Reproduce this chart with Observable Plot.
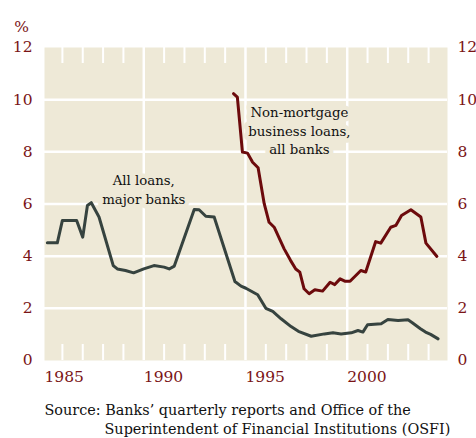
<!DOCTYPE html>
<html>
<head>
<meta charset="utf-8">
<script src="https://cdn.jsdelivr.net/npm/d3@7"></script>
<script src="https://cdn.jsdelivr.net/npm/@observablehq/plot@0.6"></script>
<style>
  html, body { margin: 0; padding: 0; background: #ffffff; }
</style>
</head>
<body>
<div id="chart"></div>
<script>
// All loans, major banks (%)
const allYears = [1985.26, 1985.75, 1986.0, 1986.7, 1987.0, 1987.23, 1987.42, 1987.8, 1988.5, 1988.7,
  1989.1, 1989.5, 1990.0, 1990.5, 1991.0, 1991.25, 1991.5, 1992.48, 1992.72, 1993.05,
  1993.46, 1994.48, 1994.78, 1995.02, 1995.6, 1996.0, 1996.34, 1996.75, 1997.24, 1997.6,
  1998.23, 1998.88, 1999.3, 1999.7, 2000.2, 2000.53, 2000.77, 2001.0, 2001.67, 2002.0,
  2002.5, 2002.99, 2003.2, 2003.6, 2003.85, 2004.1, 2004.47];
const allValues = [4.51, 4.51, 5.37, 5.37, 4.73, 5.94, 6.05, 5.5, 3.64, 3.51,
  3.45, 3.36, 3.51, 3.64, 3.58, 3.51, 3.62, 5.79, 5.78, 5.53,
  5.5, 3.03, 2.85, 2.77, 2.52, 2.0, 1.88, 1.6, 1.3, 1.12,
  0.93, 1.02, 1.06, 1.02, 1.06, 1.15, 1.09, 1.37, 1.41, 1.57,
  1.53, 1.56, 1.45, 1.22, 1.09, 1.0, 0.83];

// Non-mortgage business loans, all banks (%)
const nmYears = [1994.41, 1994.6, 1994.85, 1995.1, 1995.35, 1995.62, 1995.92, 1996.16, 1996.41, 1996.9,
  1997.22, 1997.47, 1997.67, 1997.88, 1998.13, 1998.41, 1998.79, 1999.16, 1999.39, 1999.65,
  1999.88, 2000.14, 2000.67, 2000.91, 2001.4, 2001.65, 2002.14, 2002.39, 2002.67, 2003.13,
  2003.62, 2003.87, 2004.41];
const nmValues = [10.23, 10.1, 7.99, 7.95, 7.6, 7.39, 6.01, 5.3, 5.11, 4.28,
  3.83, 3.51, 3.39, 2.75, 2.56, 2.71, 2.66, 3.0, 2.91, 3.13,
  3.04, 3.04, 3.45, 3.39, 4.56, 4.5, 5.11, 5.18, 5.56, 5.78,
  5.5, 4.5, 3.99];

const yTicks = [0, 2, 4, 6, 8, 10, 12];
const yGrid = [2, 4, 6, 8, 10];
const xGrid = [1990, 1995, 2000];
const xLabels = [1985, 1990, 1995, 2000];
const yearTicks = [1986, 1987, 1988, 1989, 1991, 1992, 1993, 1994, 1996, 1997, 1998, 1999, 2001, 2002, 2003, 2004];
const xDomain = [1985.12, 2004.93];

const labelAll = ["All loans,\nmajor banks"];
const labelAllPos = [1990, 6.59];
const labelNm = ["Non-mortgage\nbusiness loans,\nall banks"];
const labelNmPos = [1997.65, 8.85];
const sourceLines = ["Source: Banks\u2019 quarterly reports and Office of the",
  "Superintendent of Financial Institutions (OSFI)"];

const allData = allYears.map((x, i) => ({x, y: allValues[i]}));
const nmData = nmYears.map((x, i) => ({x, y: nmValues[i]}));

const BG = "#eee9d7";
const RED = "#7a1416";
const GREY = "#36433f";
const LINE_RED = "#6c0a0c";
const FONT = "DejaVu Serif";

const chart = Plot.plot({
  width: 476,
  height: 438,
  marginTop: 47,
  marginBottom: 78,
  marginLeft: 44,
  marginRight: 29,
  style: {background: "#ffffff", fontFamily: FONT},
  x: {domain: xDomain, axis: null},
  y: {domain: [0, 12], axis: null},
  marks: [
    Plot.frame({fill: BG, stroke: null}),
    Plot.ruleY(yGrid, {stroke: "#ffffff", strokeWidth: 2.5}),
    Plot.ruleX(xGrid, {stroke: "#ffffff", strokeWidth: 2.5}),
    Plot.ruleX(yearTicks, {stroke: "#ffffff", strokeWidth: 2, insetTop: 297}),
    Plot.ruleX(yearTicks, {stroke: "#ffffff", strokeWidth: 2, insetBottom: 297}),
    Plot.text(labelAll, {x: () => labelAllPos[0], y: () => labelAllPos[1], text: d => d,
      fontSize: 13.3, lineHeight: 1.43, fill: "#111", stroke: BG, strokeWidth: 9, textAnchor: "middle"}),
    Plot.text(labelNm, {x: () => labelNmPos[0], y: () => labelNmPos[1], text: d => d,
      fontSize: 13.3, lineHeight: 1.4, fill: "#111", stroke: BG, strokeWidth: 9, textAnchor: "middle"}),
    Plot.line(allData, {x: "x", y: "y", stroke: GREY, strokeWidth: 3, strokeLinejoin: "round"}),
    Plot.line(nmData, {x: "x", y: "y", stroke: LINE_RED, strokeWidth: 3, strokeLinejoin: "round"}),
    Plot.axisY(yTicks, {anchor: "left", label: null, tickSize: 0, tickPadding: 12, color: RED, fontSize: 15.5}),
    Plot.axisY(yTicks, {anchor: "right", label: null, tickSize: 0, tickPadding: 10, color: RED, fontSize: 15.5}),
    Plot.text(xLabels, {x: d => Math.max(d, xDomain[0]), frameAnchor: "bottom", dy: 21,
      text: d => String(d), textAnchor: "start", fill: RED, fontSize: 15.5}),
    Plot.text(["%"], {frameAnchor: "top-left", dx: -23, dy: -27, text: d => d, fill: RED, fontSize: 15.5, textAnchor: "middle"}),
    Plot.text([sourceLines[0]], {frameAnchor: "bottom-left", dy: 54, text: d => d, textAnchor: "start", fill: "#111", fontSize: 14.4}),
    Plot.text([sourceLines[1]], {frameAnchor: "bottom-left", dx: 60, dy: 73, text: d => d, textAnchor: "start", fill: "#111", fontSize: 14.4})
  ]
});
document.getElementById("chart").appendChild(chart);
</script>
</body>
</html>
